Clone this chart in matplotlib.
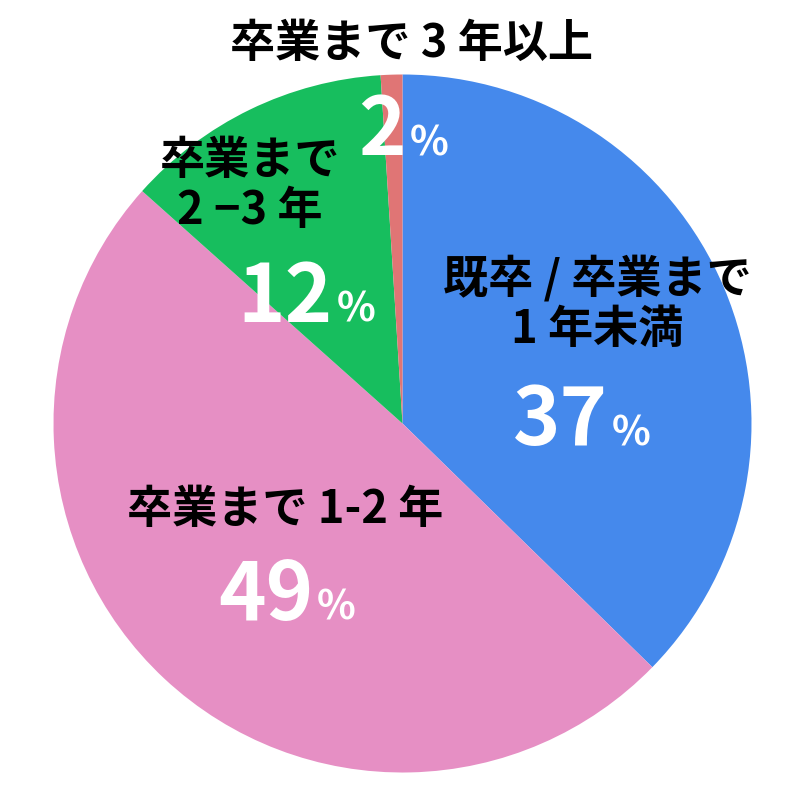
import matplotlib
matplotlib.use("Agg")
import matplotlib.pyplot as plt

plt.rcParams['font.family'] = ['Noto Sans CJK JP', 'DejaVu Sans']

categories = ["既卒 / 卒業まで\n1 年未満", "卒業まで 1-2 年", "卒業まで\n2 −3 年", "卒業まで 3 年以上"]
values = [37.3, 49.3, 12.4, 1.0]
pct_labels = ["37", "49", "12", "2"]
colors = ["#4589EC", "#E68FC4", "#17BE5E", "#E07575"]

fig = plt.figure(figsize=(8, 8), dpi=100)
ax = fig.add_axes([0, 0, 1, 1])

ax.pie(values, colors=colors, startangle=90, counterclock=False,
       center=(402.5, 800 - 423.5), radius=349,
       wedgeprops=dict(linewidth=0), frame=True)
ax.set_xlim(0, 800)
ax.set_ylim(0, 800)
ax.set_aspect('equal')
ax.axis('off')

def Y(py):
    return 800 - py

lab_fs = 32.5
num_fs = 58
pct_fs = 29

# category labels: (x center, y center in pixels)
cat_pos = [(597, 304), (285, 510), (250, 186), (411, 44)]
for (x, y), t in zip(cat_pos, categories):
    ax.text(x, Y(y), t, ha='center', va='center', fontsize=lab_fs,
            fontweight='bold', color='black', linespacing=1.12)

# percent numbers: (right edge of number, baseline) in pixels
num_pos = [(608, 445), (313, 620), (333, 322), (406, 155)]
for (x, y), t in zip(num_pos, pct_labels):
    ax.text(x, Y(y), t, ha='right', va='baseline', fontsize=num_fs,
            fontweight='bold', color='white')
    ax.text(x + 4, Y(y), "%", ha='left', va='baseline', fontsize=pct_fs,
            fontweight='bold', color='white')

fig.savefig("out.png", dpi=100)
